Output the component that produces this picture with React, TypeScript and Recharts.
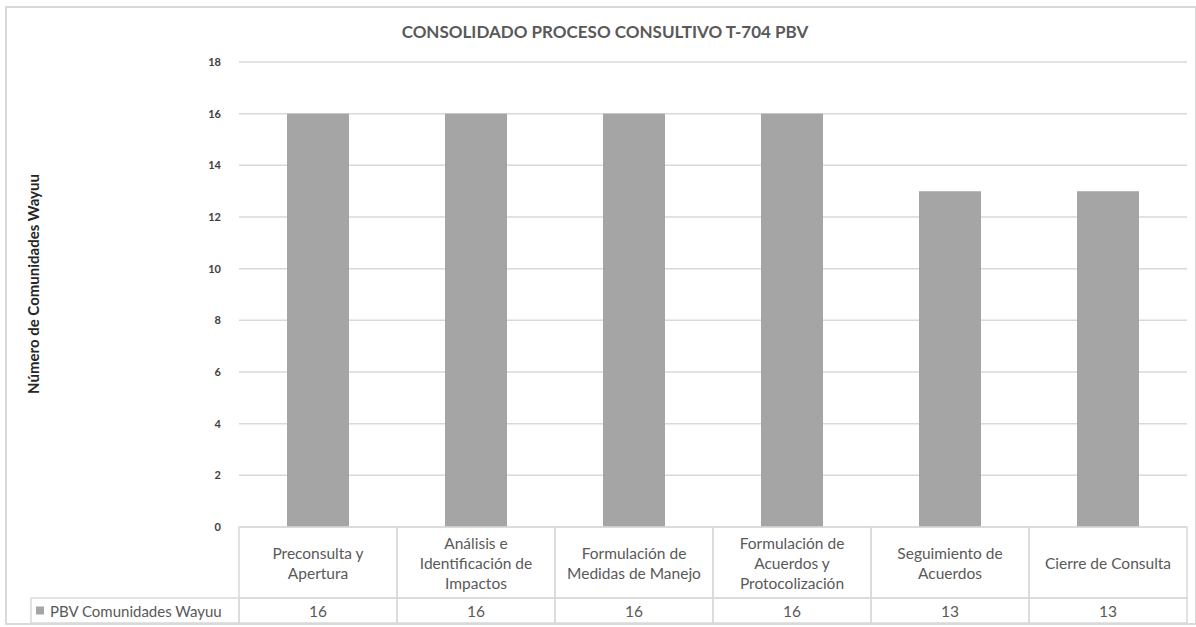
import React from 'react';
import { BarChart, Bar, XAxis, YAxis, CartesianGrid, Customized } from 'recharts';

const categories = [
  'Preconsulta y Apertura',
  'Análisis e Identificación de Impactos',
  'Formulación de Medidas de Manejo',
  'Formulación de Acuerdos y Protocolización',
  'Seguimiento de Acuerdos',
  'Cierre de Consulta',
];
const categoryLines = [
  ['Preconsulta y', 'Apertura'],
  ['Análisis e', 'Identificación de', 'Impactos'],
  ['Formulación de', 'Medidas de Manejo'],
  ['Formulación de', 'Acuerdos y', 'Protocolización'],
  ['Seguimiento de', 'Acuerdos'],
  ['Cierre de Consulta'],
];
const values = [16, 16, 16, 16, 13, 13];
const yTicks = [0, 2, 4, 6, 8, 10, 12, 14, 16, 18];
const seriesName = 'PBV Comunidades Wayuu';
const title = 'CONSOLIDADO PROCESO CONSULTIVO T-704 PBV';
const yLabel = 'Número de Comunidades Wayuu';

const data = categories.map((c, i) => ({ name: c, value: values[i], idx: i }));

const W = 1196;
const H = 627;
const M = { top: 62, right: 9, bottom: 5, left: 179 };
const YW = 60;
const XH = 95;
const PLOT_L = M.left + YW;
const PLOT_R = W - M.right;
const BAND = (PLOT_R - PLOT_L) / categories.length;
const HEAD_H = 71;
const ROW_H = 25;
const LEGEND_L = 31;
const FONT = 'Lato, "Open Sans", sans-serif';
const GRID = '#d9d9d9';
const TXT = '#595959';
const BAR = '#a5a5a5';

const TableTick = (props: any) => {
  const { x, y, payload, index } = props;
  const top = y;
  const lines = categoryLines[index] || [payload.value];
  const cx = x;
  const midY = top + HEAD_H / 2;
  const lh = 20;
  const startY = midY - ((lines.length - 1) * lh) / 2;
  return (
    <g>
      <rect x={cx - BAND / 2} y={top} width={BAND} height={HEAD_H} fill="none" stroke={GRID} strokeWidth={1.5} />
      <rect x={cx - BAND / 2} y={top + HEAD_H} width={BAND} height={ROW_H} fill="none" stroke={GRID} strokeWidth={1.5} />
      {lines.map((l, i) => (
        <text key={i} x={cx} y={startY + i * lh} textAnchor="middle" dominantBaseline="central" fontSize={15.5} fill={TXT} fontFamily={FONT}>
          {l}
        </text>
      ))}
      <text x={cx} y={top + HEAD_H + ROW_H / 2} textAnchor="middle" dominantBaseline="central" fontSize={15.5} fill={TXT} fontFamily={FONT}>
        {values[index]}
      </text>
      {index === 0 && (
        <g>
          <rect x={LEGEND_L} y={top + HEAD_H} width={cx - BAND / 2 - LEGEND_L} height={ROW_H} fill="none" stroke={GRID} strokeWidth={1.5} />
          <rect x={LEGEND_L + 5} y={top + HEAD_H + ROW_H / 2 - 4} width={8} height={8} fill={BAR} />
          <text x={LEGEND_L + 19} y={top + HEAD_H + ROW_H / 2} dominantBaseline="central" fontSize={15} fill={TXT} fontFamily={FONT}>
            {seriesName}
          </text>
        </g>
      )}
    </g>
  );
};

const Decor = () => (
  <g>
    <rect x={6} y={7} width={W - 6} height={H - 10} fill="none" stroke={GRID} strokeWidth={2} />
    <text x={605} y={31} textAnchor="middle" dominantBaseline="central" fontSize={17} fontWeight="bold" fill={TXT} fontFamily={FONT}>
      {title}
    </text>
    <text x={33} y={284} transform="rotate(-90 33 284)" textAnchor="middle" dominantBaseline="central" fontSize={15} fontWeight="bold" fill="#262626" fontFamily={FONT}>
      {yLabel}
    </text>
  </g>
);

export default function App() {
  return (
    <div style={{ position: 'absolute', left: 0, top: 0, width: W, height: H, background: '#fff' }}>
      <BarChart width={W} height={H} data={data} margin={M}>
        <CartesianGrid vertical={false} stroke={GRID} strokeWidth={1.5} />
        <XAxis
          dataKey="name"
          height={XH}
          axisLine={false}
          tickLine={false}
          tickSize={0}
          tickMargin={0}
          interval={0}
          tick={(p: any) => <TableTick {...p} />}
        />
        <YAxis
          width={YW}
          domain={[0, 18]}
          ticks={yTicks}
          axisLine={false}
          tickLine={false}
          tickMargin={12}
          tick={{ fontSize: 11, fontWeight: 'bold', fill: '#404040', fontFamily: FONT }}
        />
        <Bar dataKey="value" name={seriesName} fill={BAR} barSize={62} isAnimationActive={false} />
        <Customized component={Decor} />
      </BarChart>
    </div>
  );
}
